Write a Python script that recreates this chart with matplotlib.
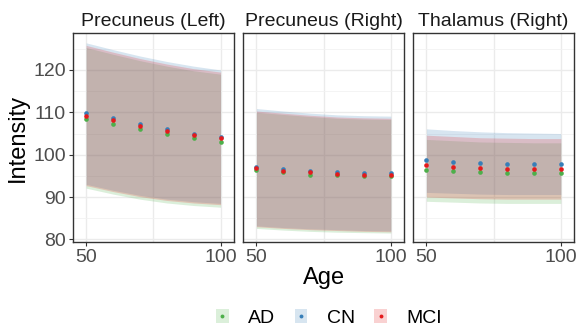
import matplotlib
matplotlib.use("Agg")
from matplotlib import pyplot as plt
from matplotlib.patches import Patch
from matplotlib.lines import Line2D

plt.rcParams['font.family'] = ['Liberation Sans', 'DejaVu Sans']

ages = [50, 60, 70, 80, 90, 100]
groups = ["AD", "CN", "MCI"]
colors = {"AD": "#4DAF4A", "CN": "#377EB8", "MCI": "#E41A1C"}
regions = ["Precuneus (Left)", "Precuneus (Right)", "Thalamus (Right)"]

# mean intensity per group
means = {
    "Precuneus (Left)": {
        "AD": [108.4, 107.3, 106.0, 104.9, 103.9, 103.1],
        "CN": [109.8, 108.6, 107.2, 106.0, 105.0, 104.2],
        "MCI": [109.2, 108.2, 106.8, 105.6, 104.6, 104.0],
    },
    "Precuneus (Right)": {
        "AD": [96.4, 95.8, 95.3, 95.1, 95.0, 94.9],
        "CN": [97.1, 96.6, 96.1, 95.9, 95.6, 95.6],
        "MCI": [96.8, 96.2, 95.8, 95.5, 95.3, 95.3],
    },
    "Thalamus (Right)": {
        "AD": [96.4, 96.1, 95.8, 95.6, 95.6, 95.6],
        "CN": [98.7, 98.3, 98.0, 97.8, 97.8, 97.8],
        "MCI": [97.5, 97.1, 96.8, 96.7, 96.7, 96.7],
    },
}

# ribbon bounds
upper = {
    "Precuneus (Left)": {
        "AD": [125.3, 123.7, 122.2, 120.9, 119.8, 119.0],
        "CN": [126.4, 124.8, 123.3, 122.0, 120.9, 120.0],
        "MCI": [125.8, 124.2, 122.7, 121.4, 120.3, 119.5],
    },
    "Precuneus (Right)": {
        "AD": [110.0, 109.5, 109.0, 108.6, 108.4, 108.3],
        "CN": [110.9, 110.3, 109.8, 109.4, 109.2, 109.1],
        "MCI": [110.3, 109.8, 109.3, 108.9, 108.7, 108.6],
    },
    "Thalamus (Right)": {
        "AD": [103.6, 103.3, 103.0, 102.9, 102.8, 102.8],
        "CN": [106.1, 105.7, 105.4, 105.2, 105.1, 105.0],
        "MCI": [104.6, 104.3, 104.0, 103.9, 103.8, 103.8],
    },
}
lower = {
    "Precuneus (Left)": {
        "AD": [92.1, 90.7, 89.5, 88.6, 88.0, 87.6],
        "CN": [93.0, 91.6, 90.4, 89.5, 88.9, 88.5],
        "MCI": [92.7, 91.3, 90.1, 89.2, 88.6, 88.2],
    },
    "Precuneus (Right)": {
        "AD": [82.6, 82.2, 81.9, 81.7, 81.6, 81.5],
        "CN": [83.2, 82.8, 82.5, 82.3, 82.1, 82.0],
        "MCI": [83.0, 82.6, 82.3, 82.1, 81.9, 81.8],
    },
    "Thalamus (Right)": {
        "AD": [89.0, 88.8, 88.6, 88.5, 88.5, 88.5],
        "CN": [91.1, 90.9, 90.7, 90.6, 90.6, 90.6],
        "MCI": [90.0, 89.8, 89.6, 89.5, 89.5, 89.5],
    },
}

fig = plt.figure(figsize=(5.78, 3.31), dpi=100)

lefts = [0.1258, 0.4204, 0.7145]
axes = []
for i, reg in enumerate(regions):
    ax = fig.add_axes([lefts[i], 0.269, 0.279, 0.631])
    axes.append(ax)
    for g in groups:
        ax.fill_between(ages, lower[reg][g], upper[reg][g], color=colors[g],
                        alpha=0.2, linewidth=0)
    for g in groups:
        ax.scatter(ages, means[reg][g], s=11, color=colors[g], zorder=3, linewidths=0)
    ax.set_xlim(45, 105)
    ax.set_ylim(79.4, 128.7)
    ax.set_xticks([50, 100])
    ax.set_xticks([75], minor=True)
    ax.set_yticks([80, 90, 100, 110, 120])
    ax.set_yticks([85, 95, 105, 115, 125], minor=True)
    ax.grid(True, which="major", color="#EBEBEB", linewidth=1.0)
    ax.grid(True, which="minor", color="#F2F2F2", linewidth=0.6)
    ax.xaxis.grid(True, which="minor", color="#EBEBEB", linewidth=1.0)
    ax.set_axisbelow(True)
    ax.tick_params(which="minor", length=0)
    ax.tick_params(which="major", length=3, width=0.8, color="#333333",
                   labelsize=14, labelcolor="#4D4D4D", pad=2)
    for sp in ax.spines.values():
        sp.set_color("#333333")
        sp.set_linewidth(1.0)
    ax.set_title(reg, fontsize=14, color="#1A1A1A", pad=5)
    if i > 0:
        ax.tick_params(axis="y", left=False, labelleft=False)

axes[0].set_ylabel("Intensity", fontsize=17, labelpad=3)
fig.text(324 / 578, 1 - 278 / 331, "Age", fontsize=17, ha="center", va="center")

handles = [(Patch(facecolor=colors[g], alpha=0.2, linewidth=0),
            Line2D([], [], marker="o", linestyle="none", markersize=2.8,
                   color=colors[g], markeredgewidth=0)) for g in groups]
fig.legend(handles, groups, loc="center", bbox_to_anchor=(329 / 578, 1 - 318 / 331),
           ncol=3, frameon=False, fontsize=14, handlelength=0.65, handleheight=0.7,
           handletextpad=1.0, columnspacing=1.0, borderpad=0)

plt.savefig("out.png", dpi=100)
